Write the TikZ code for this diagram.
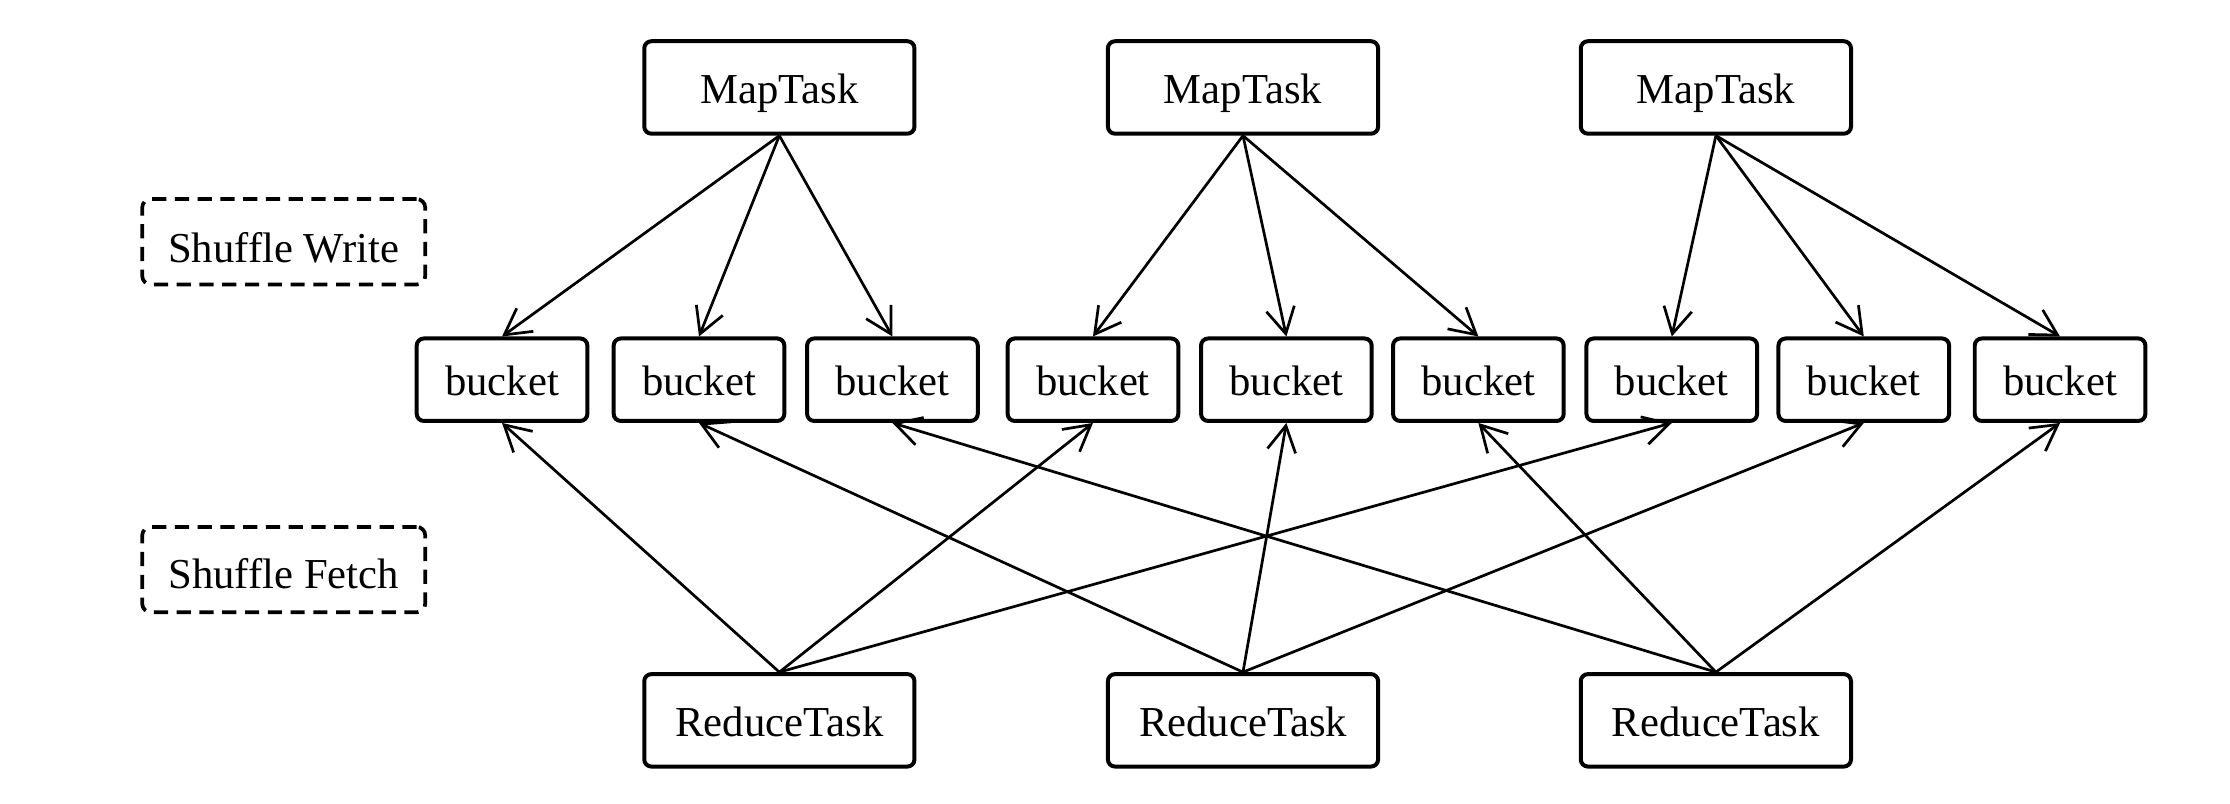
\documentclass[tikz,border=0pt]{standalone}
\usepackage{fontspec}
\setmainfont{Liberation Serif}
\usetikzlibrary{arrows.meta}
\newcommand{\dn}[2]{\raisebox{-#1}[\height][\depth]{#2}}
\begin{document}
\begin{tikzpicture}[x=0.5pt,y=-0.5pt,
  task/.style={draw,line width=1.4pt,rounded corners=2.5pt,minimum width=95pt,minimum height=32.5pt,inner sep=0pt,font=\fontsize{15}{18}\selectfont},
  bkt/.style={draw,line width=1.4pt,rounded corners=2.5pt,minimum width=60pt,minimum height=29pt,inner sep=0pt,font=\fontsize{15}{18}\selectfont},
  phase/.style={draw,line width=1.3pt,dash pattern=on 5pt off 3pt,rounded corners=3pt,minimum width=99.5pt,minimum height=30pt,inner sep=0pt,font=\fontsize{15}{18}\selectfont},
  arr/.style={line width=0.95pt,-{Straight Barb[length=9pt,width=10pt,line width=0.95pt]}}]
\useasboundingbox (0,0) rectangle (1568,565);
\node[phase] (sw) at (199.5,170) {\dn{2pt}{Shuffle Write}};
\node[phase] (sf) at (199.5,400.5) {\dn{1.5pt}{Shuffle Fetch}};
\node[task] (m1) at (548,61.5) {\dn{2pt}{MapTask}};
\node[task] (m2) at (874,61.5) {\dn{2pt}{MapTask}};
\node[task] (m3) at (1206.5,61.5) {\dn{2pt}{MapTask}};
\node[task] (r1) at (548,506.5) {\dn{0.5pt}{ReduceTask}};
\node[task] (r2) at (874,506.5) {\dn{0.5pt}{ReduceTask}};
\node[task] (r3) at (1206.5,506.5) {\dn{0.5pt}{ReduceTask}};
\node[bkt] (b1) at (353,267) {\dn{0.5pt}{bucket}};
\node[bkt] (b2) at (491.5,267) {\dn{0.5pt}{bucket}};
\node[bkt] (b3) at (627.5,267) {\dn{0.5pt}{bucket}};
\node[bkt] (b4) at (768.5,267) {\dn{0.5pt}{bucket}};
\node[bkt] (b5) at (904.5,267) {\dn{0.5pt}{bucket}};
\node[bkt] (b6) at (1039.5,267) {\dn{0.5pt}{bucket}};
\node[bkt] (b7) at (1175.5,267) {\dn{0.5pt}{bucket}};
\node[bkt] (b8) at (1310.5,267) {\dn{0.5pt}{bucket}};
\node[bkt] (b9) at (1448.5,267) {\dn{0.5pt}{bucket}};
\draw[arr] (m1.south) -- (b1.north);
\draw[arr] (m1.south) -- (b2.north);
\draw[arr] (m1.south) -- (b3.north);
\draw[arr] (m2.south) -- (b4.north);
\draw[arr] (m2.south) -- (b5.north);
\draw[arr] (m2.south) -- (b6.north);
\draw[arr] (m3.south) -- (b7.north);
\draw[arr] (m3.south) -- (b8.north);
\draw[arr] (m3.south) -- (b9.north);
\draw[arr] (r1.north) -- (b1.south);
\draw[arr] (r1.north) -- (b4.south);
\draw[arr] (r1.north) -- (b7.south);
\draw[arr] (r2.north) -- (b2.south);
\draw[arr] (r2.north) -- (b5.south);
\draw[arr] (r2.north) -- (b8.south);
\draw[arr] (r3.north) -- (b3.south);
\draw[arr] (r3.north) -- (b6.south);
\draw[arr] (r3.north) -- (b9.south);
\end{tikzpicture}
\end{document}
